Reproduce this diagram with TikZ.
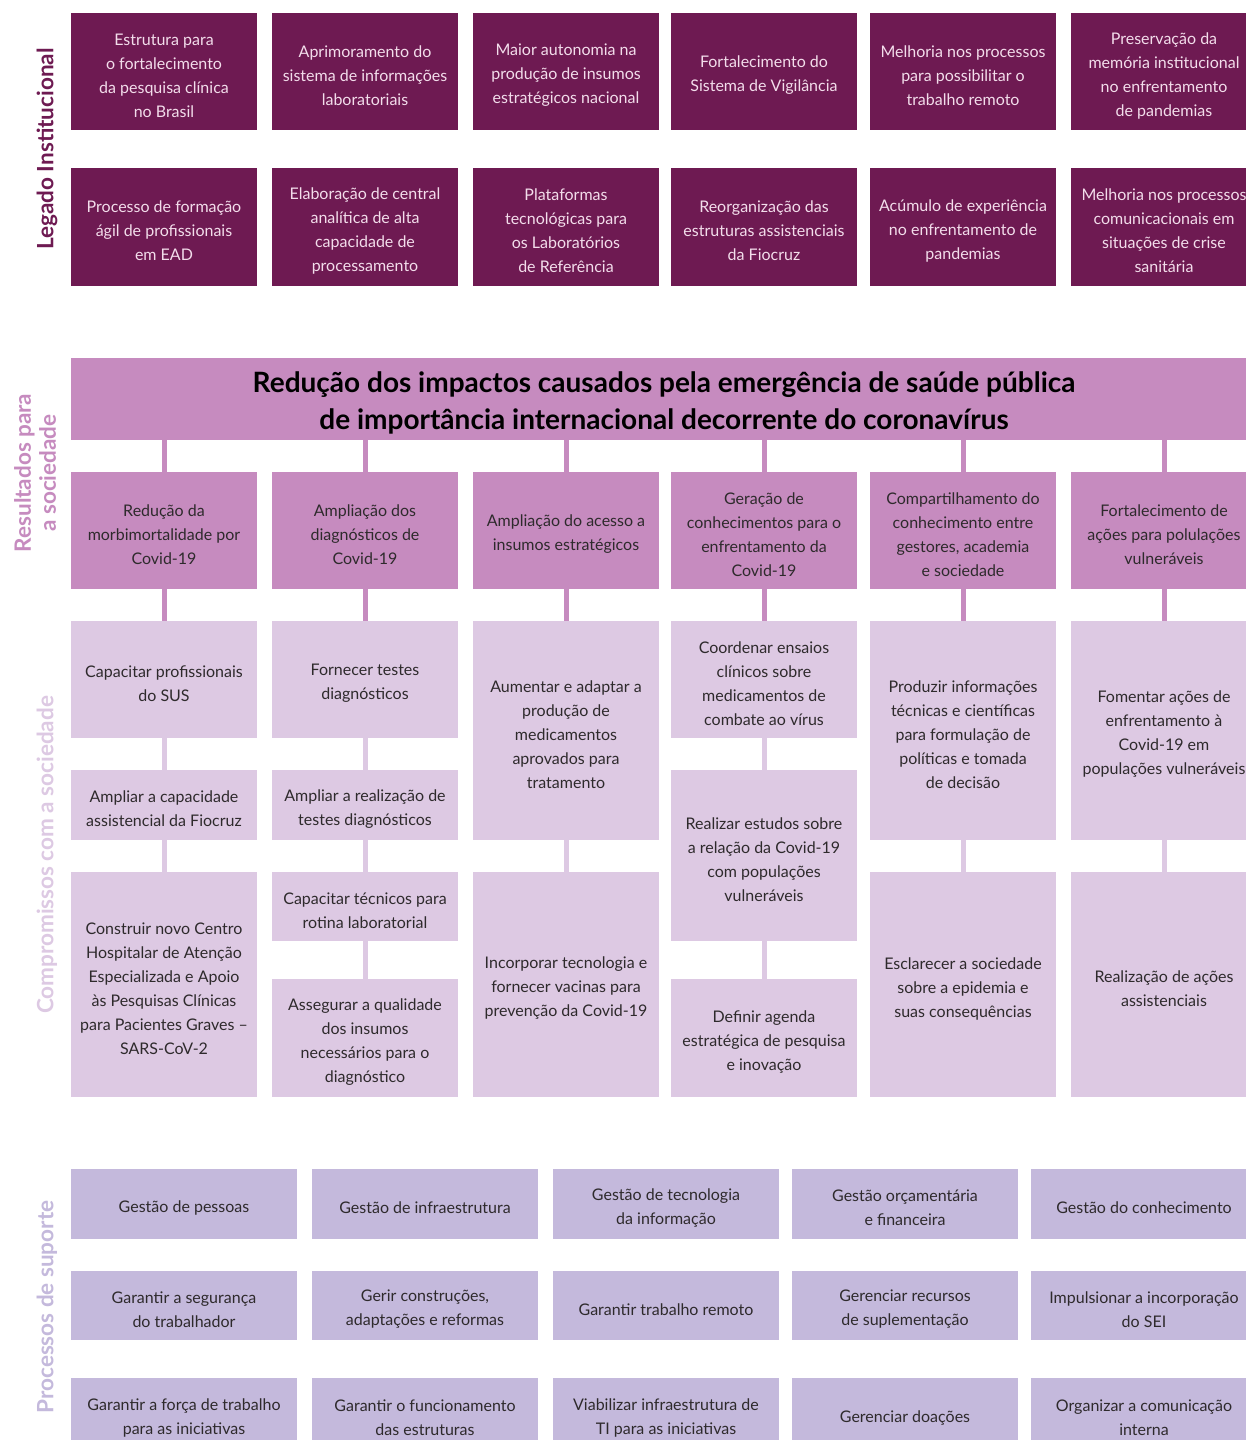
\documentclass[tikz,border=0pt]{standalone}
\usepackage{fontspec}
\setmainfont{Lato}
\definecolor{cdark}{HTML}{6E1A52}
\definecolor{cmid}{HTML}{C68BBF}
\definecolor{clight}{HTML}{DDC9E3}
\definecolor{clav}{HTML}{C4B9DC}
\definecolor{ctxtlt}{HTML}{F3DDEB}
\definecolor{ctxt}{HTML}{2E2A2C}
\tikzset{
  basebox/.style={rectangle, inner sep=0pt},
  basetxt/.style={inner sep=0pt, align=center, font=\fontsize{16}{24}\selectfont},
  legbox/.style={basebox, fill=cdark},
  legtxt/.style={basetxt, text=ctxtlt},
  resbox/.style={basebox, fill=cmid},
  restxt/.style={basetxt, text=ctxt},
  combox/.style={basebox, fill=clight},
  comtxt/.style={basetxt, text=ctxt},
  supbox/.style={basebox, fill=clav},
  suptxt/.style={basetxt, text=ctxt},
  titbox/.style={basebox, fill=cmid},
  tittxt/.style={basetxt, text=black, font=\bfseries\fontsize{28}{37}\selectfont},
  connmid/.style={draw=cmid, line width=5pt},
  connlt/.style={draw=clight, line width=5pt},
  sidelbl/.style={rotate=90, align=center, font=\bfseries\fontsize{22.5}{25}\selectfont}
}
\newcommand\bx[7]{%
  \node[#2box, minimum width={(#5-#3)*1pt}, minimum height={(#6-#4)*1pt}] (#1) at ({(#3+#5)/2},{(#4+#6)/2}) {};
  \node[#2txt] (#1t) at ([yshift=-4pt]#1.center) {#7};}
\begin{document}
\begin{tikzpicture}[x=1pt,y=-1pt]
\fill[white] (0,0) rectangle (1246,1440);
\useasboundingbox (0,0) rectangle (1246,1440);

% side labels
\node[sidelbl, text=cdark] (lblA) at (47,149) {Legado Institucional};
\node[sidelbl, text=cmid] (lblB) at (35,473) {Resultados para\\a sociedade};
\node[sidelbl, text=clight] (lblC) at (47,855) {Compromissos com a sociedade};
\node[sidelbl, text=clav] (lblD) at (47,1307) {Processos de suporte};

% Legado row 1
\bx{la1}{leg}{71}{13}{257}{130}{Estrutura para\\o fortalecimento\\da pesquisa clínica\\no Brasil}
\bx{la2}{leg}{272}{13}{458}{130}{Aprimoramento do\\sistema de informações\\laboratoriais}
\bx{la3}{leg}{473}{13}{659}{130}{Maior autonomia na\\produção de insumos\\estratégicos nacional}
\bx{la4}{leg}{671}{13}{857}{130}{Fortalecimento do\\Sistema de Vigilância}
\bx{la5}{leg}{870}{13}{1056}{130}{Melhoria nos processos\\para possibilitar o\\trabalho remoto}
\bx{la6}{leg}{1071}{13}{1257}{130}{Preservação da\\memória institucional\\no enfrentamento\\de pandemias}
% Legado row 2
\bx{lb1}{leg}{71}{168}{257}{286}{Processo de formação\\ágil de profissionais\\em EAD}
\bx{lb2}{leg}{272}{168}{458}{286}{Elaboração de central\\analítica de alta\\capacidade de\\processamento}
\bx{lb3}{leg}{473}{168}{659}{286}{Plataformas\\tecnológicas para\\os Laboratórios\\de Referência}
\bx{lb4}{leg}{671}{168}{857}{286}{Reorganização das\\estruturas assistenciais\\da Fiocruz}
\bx{lb5}{leg}{870}{168}{1056}{286}{Acúmulo de experiência\\no enfrentamento de\\pandemias}
\bx{lb6}{leg}{1071}{168}{1257}{286}{Melhoria nos processos\\comunicacionais em\\situações de crise\\sanitária}

% Title
\bx{title}{tit}{71}{358}{1257}{440}{Redução dos impactos causados pela emergência de saúde pública\\de importância internacional decorrente do coronavírus}

% Results
\bx{r1}{res}{71}{472}{257}{589}{Redução da\\morbimortalidade por\\Covid-19}
\bx{r2}{res}{272}{472}{458}{589}{Ampliação dos\\diagnósticos de\\Covid-19}
\bx{r3}{res}{473}{472}{659}{589}{Ampliação do acesso a\\insumos estratégicos}
\bx{r4}{res}{671}{472}{857}{589}{Geração de\\conhecimentos para o\\enfrentamento da\\Covid-19}
\bx{r5}{res}{870}{472}{1056}{589}{Compartilhamento do\\conhecimento entre\\gestores, academia\\e sociedade}
\bx{r6}{res}{1071}{472}{1257}{589}{Fortalecimento de\\ações para polulações\\vulneráveis}

% Commitments
\bx{c11}{com}{71}{621}{257}{738}{Capacitar profissionais\\do SUS}
\bx{c12}{com}{71}{770}{257}{840}{Ampliar a capacidade\\assistencial da Fiocruz}
\bx{c13}{com}{71}{872}{257}{1097}{Construir novo Centro\\Hospitalar de Atenção\\Especializada e Apoio\\às Pesquisas Clínicas\\para Pacientes Graves –\\SARS-CoV-2}
\bx{c21}{com}{272}{621}{458}{738}{Fornecer testes\\diagnósticos}
\bx{c22}{com}{272}{770}{458}{840}{Ampliar a realização de\\testes diagnósticos}
\bx{c23}{com}{272}{872}{458}{941}{Capacitar técnicos para\\rotina laboratorial}
\bx{c24}{com}{272}{979}{458}{1097}{Assegurar a qualidade\\dos insumos\\necessários para o\\diagnóstico}
\bx{c31}{com}{473}{621}{659}{840}{Aumentar e adaptar a\\produção de\\medicamentos\\aprovados para\\tratamento}
\bx{c32}{com}{473}{872}{659}{1097}{Incorporar tecnologia e\\fornecer vacinas para\\prevenção da Covid-19}
\bx{c41}{com}{671}{621}{857}{738}{Coordenar ensaios\\clínicos sobre\\medicamentos de\\combate ao vírus}
\bx{c42}{com}{671}{770}{857}{941}{Realizar estudos sobre\\a relação da Covid-19\\com populações\\vulneráveis}
\bx{c43}{com}{671}{979}{857}{1097}{Definir agenda\\estratégica de pesquisa\\e inovação}
\bx{c51}{com}{870}{621}{1056}{840}{Produzir informações\\técnicas e científicas\\para formulação de\\políticas e tomada\\de decisão}
\bx{c52}{com}{870}{872}{1056}{1097}{Esclarecer a sociedade\\sobre a epidemia e\\suas consequências}
\bx{c61}{com}{1071}{621}{1257}{840}{Fomentar ações de\\enfrentamento à\\Covid-19 em\\populações vulneráveis}
\bx{c62}{com}{1071}{872}{1257}{1097}{Realização de ações\\assistenciais}

% connectors title -> results
\foreach \r in {r1,r2,r3,r4,r5,r6}{
  \draw[connmid] (\r.north |- title.south) -- (\r.north);
}
% results -> commitments
\draw[connmid] (r1.south) -- (c11.north);
\draw[connmid] (r2.south) -- (c21.north);
\draw[connmid] (r3.south) -- (c31.north);
\draw[connmid] (r4.south) -- (c41.north);
\draw[connmid] (r5.south) -- (c51.north);
\draw[connmid] (r6.south) -- (c61.north);
% commitments chain
\draw[connlt] (c11.south) -- (c12.north);
\draw[connlt] (c12.south) -- (c13.north);
\draw[connlt] (c21.south) -- (c22.north);
\draw[connlt] (c22.south) -- (c23.north);
\draw[connlt] (c23.south) -- (c24.north);
\draw[connlt] (c31.south) -- (c32.north);
\draw[connlt] (c41.south) -- (c42.north);
\draw[connlt] (c42.south) -- (c43.north);
\draw[connlt] (c51.south) -- (c52.north);
\draw[connlt] (c61.south) -- (c62.north);

% Support processes
\bx{s11}{sup}{71}{1169}{297}{1239}{Gestão de pessoas}
\bx{s12}{sup}{312}{1169}{538}{1239}{Gestão de infraestrutura}
\bx{s13}{sup}{553}{1169}{779}{1239}{Gestão de tecnologia\\da informação}
\bx{s14}{sup}{792}{1169}{1018}{1239}{Gestão orçamentária\\e financeira}
\bx{s15}{sup}{1031}{1169}{1257}{1239}{Gestão do conhecimento}
\bx{s21}{sup}{71}{1271}{297}{1340}{Garantir a segurança\\do trabalhador}
\bx{s22}{sup}{312}{1271}{538}{1340}{Gerir construções,\\adaptações e reformas}
\bx{s23}{sup}{553}{1271}{779}{1340}{Garantir trabalho remoto}
\bx{s24}{sup}{792}{1271}{1018}{1340}{Gerenciar recursos\\de suplementação}
\bx{s25}{sup}{1031}{1271}{1257}{1340}{Impulsionar a incorporação\\do SEI}
\bx{s31}{sup}{71}{1378}{297}{1450}{Garantir a força de trabalho\\para as iniciativas}
\bx{s32}{sup}{312}{1378}{538}{1450}{Garantir o funcionamento\\das estruturas}
\bx{s33}{sup}{553}{1378}{779}{1450}{Viabilizar infraestrutura de\\TI para as iniciativas}
\bx{s34}{sup}{792}{1378}{1018}{1450}{Gerenciar doações}
\bx{s35}{sup}{1031}{1378}{1257}{1450}{Organizar a comunicação\\interna}
\end{tikzpicture}
\end{document}
